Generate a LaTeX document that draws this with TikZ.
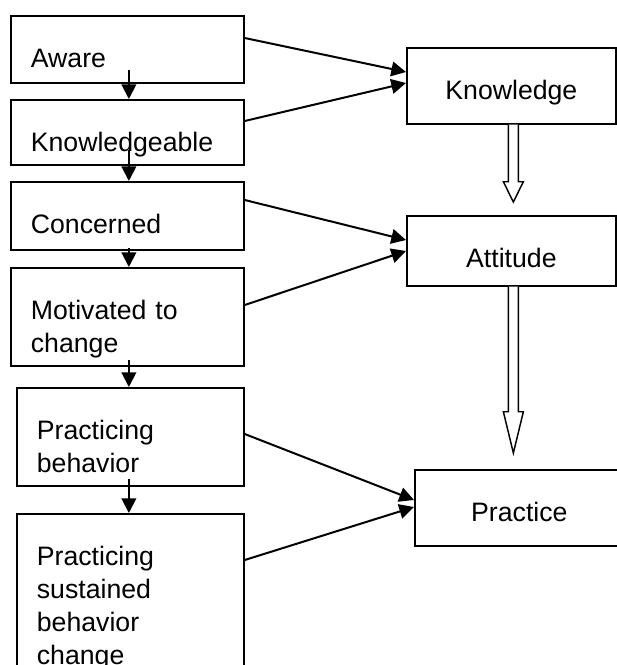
\documentclass[tikz,border=0pt]{standalone}
\usepackage{fontspec}
\setmainfont{Liberation Sans}
\usepackage{tikz}
\usetikzlibrary{calc, positioning, arrows.meta}

\begin{document}
\begin{tikzpicture}[
  x=0.75pt, y=-0.75pt,
  stage/.style={draw, line width=1.3pt, anchor=north west, align=left,
                text width=144.75pt, inner xsep=15pt, inner ysep=0pt,
                text height=39pt, font=\fontsize{20}{24.75}\selectfont},
  goal/.style={draw, line width=1.3pt, anchor=north west, minimum width=156.75pt,
               inner sep=0pt, text height=39pt, font=\fontsize{20}{24.75}\selectfont},
  flow/.style={line width=1.5pt, -{Triangle[length=11pt, width=11pt]}},
  hollow/.style={line width=1.1pt, fill=white, line join=miter},
]
\useasboundingbox (0,0) rectangle (617,665);

% stages of change
\node[stage, text depth=11.25pt] (aware) at (10,15) {Aware};
\node[stage, text depth=9.75pt] (knowable) at (10,99) {Knowledgeable};
\node[stage, text depth=12pt] (concerned) at (10,181) {Concerned};
\node[stage, text depth=34.5pt] (motivated) at (10,267) {Motivated to\\change};
\node[stage, text width=140.25pt, text depth=34.5pt] (practicing) at (16,387) {Practicing\\behavior};
\node[stage, text width=140.25pt, text depth=101.25pt] (sustained) at (16,513) {Practicing\\sustained\\behavior\\change};

% KAP
\node[goal, text depth=18pt] (know) at (406,47) {Knowledge};
\node[goal, text depth=13.5pt] (att) at (406,215) {Attitude};
\node[goal, text depth=18pt] (prac) at (414,469) {Practice};

% down the stages
\draw[flow] ($(aware.south)+(1.5,-14)$) -- ($(knowable.north)+(1.5,0)$);
\draw[flow] ($(knowable.south)+(1.5,-16)$) -- ($(concerned.north)+(1.5,0)$);
\draw[flow] ($(concerned.south)+(1.5,-3)$) -- ($(motivated.north)+(1.5,0)$);
\draw[flow] ($(motivated.south)+(1.5,-7)$) -- ($(practicing.north)+(-1.5,0)$);
\draw[flow] ($(practicing.south)+(-1.5,-8)$) -- ($(sustained.north)+(-1.5,0)$);

% stages to KAP
\draw[flow] ($(aware.north east)+(0,23)$) -- ($(know.north west)+(0,25)$);
\draw[flow] ($(knowable.north east)+(0,22)$) -- ($(know.north west)+(0,36)$);
\draw[flow] ($(concerned.north east)+(0,19)$) -- ($(att.north west)+(0,25)$);
\draw[flow] ($(motivated.north east)+(0,38)$) -- ($(att.north west)+(0,36)$);
\draw[flow] ($(practicing.north east)+(0,47)$) -- ($(prac.north west)+(0,31)$);
\draw[flow] ($(sustained.north east)+(0,47)$) -- ($(prac.north west)+(0,38)$);

% hollow arrows
\draw[hollow] ($(know.south)+(-3,0)$) -- ++(0,57) -- ++(-5,0)
  -- ($(att.north)+(2,-13)$) -- ($(know.south)+(12,57)$) -- ++(-5,0)
  -- ($(know.south)+(7,0)$);
\draw[hollow] ($(att.south)+(-3,0)$) -- ++(0,125) -- ++(-5,0)
  -- ($(prac.north)+(-6,-16)$) -- ($(att.south)+(12,125)$) -- ++(-5,0)
  -- ($(att.south)+(7,0)$);

\end{tikzpicture}
\end{document}
